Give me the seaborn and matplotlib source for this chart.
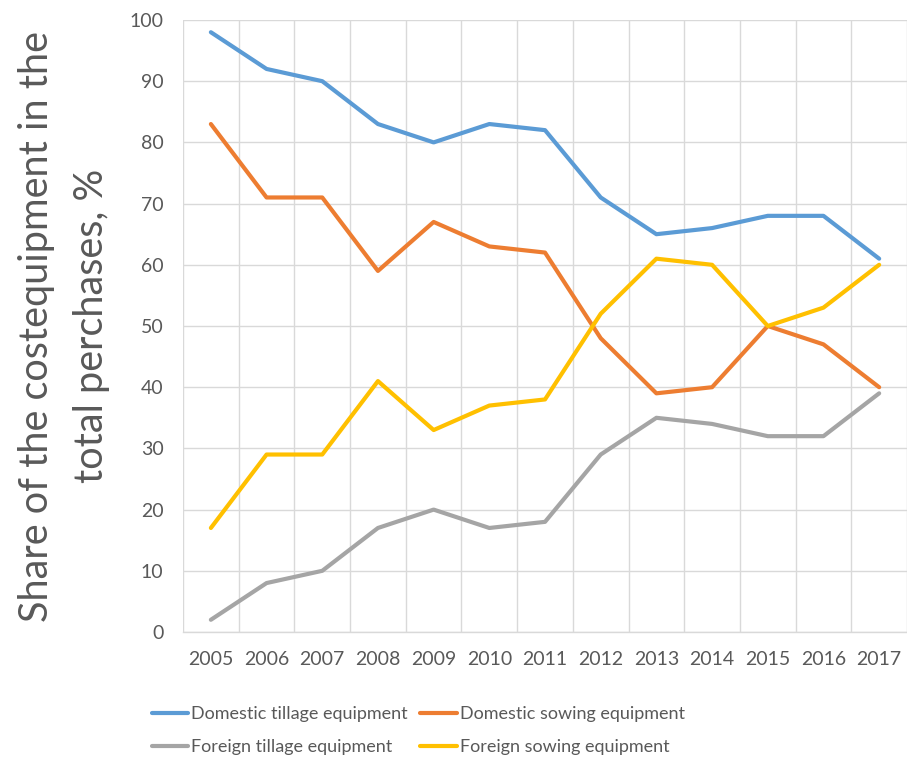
import numpy as np
import pandas as pd
import seaborn as sns
import matplotlib.pyplot as plt
from matplotlib.ticker import MultipleLocator

years = ["2005", "2006", "2007", "2008", "2009", "2010", "2011",
         "2012", "2013", "2014", "2015", "2016", "2017"]
domestic_tillage = [98, 92, 90, 83, 80, 83, 82, 71, 65, 66, 68, 68, 61]
domestic_sowing = [83, 71, 71, 59, 67, 63, 62, 48, 39, 40, 50, 47, 40]
foreign_tillage = [2, 8, 10, 17, 20, 17, 18, 29, 35, 34, 32, 32, 39]
foreign_sowing = [17, 29, 29, 41, 33, 37, 38, 52, 61, 60, 50, 53, 60]

series_names = ["Domestic tillage equipment", "Domestic sowing equipment",
                "Foreign tillage equipment", "Foreign sowing equipment"]
colors = ["#5B9BD5", "#ED7D31", "#A5A5A5", "#FFC000"]

# long-form table for seaborn
rows = []
for name, vals in zip(series_names,
                      [domestic_tillage, domestic_sowing, foreign_tillage, foreign_sowing]):
    for i, v in enumerate(vals):
        rows.append({"idx": i, "value": v, "series": name})
df = pd.DataFrame(rows)

sns.set_theme(style="white")
plt.rcParams['font.family'] = ['Lato', 'DejaVu Sans']

fig = plt.figure(figsize=(9.07, 7.6), dpi=100)
ax = fig.add_axes([0.2018, 0.1684, 0.7982, 0.8053])

sns.lineplot(data=df, x="idx", y="value", hue="series", hue_order=series_names,
             palette=colors, linewidth=3.0, ax=ax, legend=False)

ax.set_xlim(-0.5, len(years) - 0.5)
ax.set_ylim(0, 100)
ax.yaxis.set_major_locator(MultipleLocator(10))
ax.set_xticks(range(len(years)))
ax.set_xticklabels(years)
ax.set_xticks(np.arange(-0.5, len(years), 1.0), minor=True)

grid_c = "#D9D9D9"
ax.grid(False)
ax.yaxis.grid(True, which="major", color=grid_c, linewidth=1.0)
ax.xaxis.grid(True, which="minor", color=grid_c, linewidth=1.0)
ax.set_axisbelow(True)
for s in ["top", "right", "left"]:
    ax.spines[s].set_visible(False)
ax.spines["bottom"].set_color(grid_c)
ax.spines["bottom"].set_linewidth(1.0)

ax.tick_params(axis="both", which="both", length=0, labelsize=14, colors="#595959")
ax.tick_params(axis="x", pad=14)
ax.tick_params(axis="y", pad=14)

ax.set_xlabel("")
ax.set_ylabel("Share of the costequipment in the\ntotal perchases, %",
              fontsize=28.5, color="#595959", labelpad=14, linespacing=1.6)

# legend filled row by row like the original
order = [0, 2, 1, 3]
handles = [plt.Line2D([], [], color=colors[i], linewidth=3.0) for i in order]
labels = [series_names[i] for i in order]
fig.legend(handles, labels, loc="center left", bbox_to_anchor=(152 / 907, 0.0385),
           ncol=2, frameon=False, fontsize=13, handlelength=2.0, handletextpad=0.17,
           columnspacing=0.7, labelspacing=0.95, borderpad=0, borderaxespad=0,
           labelcolor="#595959")

fig.savefig("out.png", dpi=100, facecolor="white")
